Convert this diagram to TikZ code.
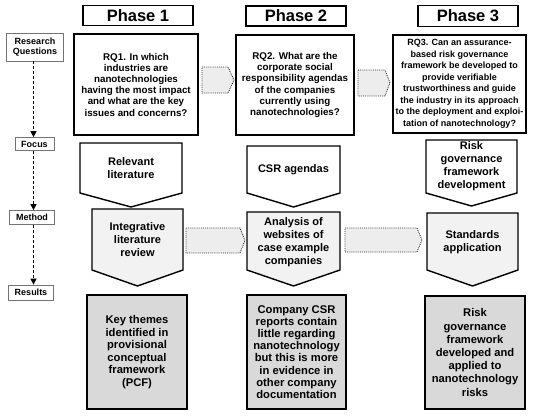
\documentclass[tikz,border=0pt]{standalone}
\usepackage{fontspec}
\setmainfont{Liberation Sans}
\usetikzlibrary{arrows.meta}
\begin{document}
\begin{tikzpicture}[x=1pt,y=-1pt,
  lbl/.style={draw=black!55, line width=0.8pt, fill=white, align=center, inner sep=1pt,
    font=\bfseries\fontsize{9}{10.5}\selectfont},
  phase/.style={draw, line width=1.6pt, inner sep=0pt, font=\bfseries\fontsize{16.5}{18}\selectfont},
  box/.style={draw, line width=1.6pt, align=center, inner sep=0pt},
  pent/.style={draw, line width=1.4pt, line join=miter},
  ptxt/.style={align=center, inner sep=0pt, font=\bfseries\fontsize{11}{13}\selectfont},
  dotarrow/.style={draw=black!80, densely dotted, line width=0.9pt, fill=black!7},
  flow/.style={densely dashed, line width=1.2pt, -{Triangle[length=6pt,width=6pt]}},
  rqf/.style={font=\bfseries\fontsize{9.8}{11.2}\selectfont},
  resf/.style={fill=black!15, font=\bfseries\fontsize{11.2}{12.5}\selectfont}
]
\useasboundingbox (0,0) rectangle (550,416);

% phase headers
\node[phase, minimum width=110pt, minimum height=20pt] (p1) at (138,15.5) {Phase 1};
\node[phase, minimum width=100pt, minimum height=20pt] (p2) at (296,16) {Phase 2};
\node[phase, minimum width=100pt, minimum height=21pt] (p3) at (468,16) {Phase 3};

% left labels
\coordinate (ax) at (33.5,0);
\node[lbl, minimum width=57pt, minimum height=28pt] (rqlbl) at (35,47) {Research\\Questions};
\node[lbl, minimum width=39pt, minimum height=13pt] (focuslbl) at (34.5,144) {Focus};
\node[lbl, minimum width=45pt, minimum height=14pt] (methodlbl) at (32,217.5) {Method};
\node[lbl, minimum width=45pt, minimum height=15pt] (reslbl) at (31,292.5) {Results};
\draw[flow] (rqlbl.south -| ax) -- (focuslbl.north -| ax);
\draw[flow] (focuslbl.south -| ax) -- (methodlbl.north -| ax);
\draw[flow] (methodlbl.south -| ax) -- (reslbl.north -| ax);

% research questions
\node[box, rqf, minimum width=124pt, minimum height=101pt] (rq1) at (136,84.5)
  {RQ1. In which\\industries are\\nanotechnologies\\having the most impact\\and what are the key\\issues and concerns?};
\node[box, rqf, minimum width=118pt, minimum height=100pt] (rq2) at (295,85)
  {RQ2. What are the\\corporate social\\responsibility agendas\\of the companies\\currently using\\nanotechnologies?};
\node[box, font=\bfseries\fontsize{9}{11.5}\selectfont, minimum width=133pt, minimum height=98pt] (rq3) at (459.5,84)
  {RQ3. Can an assurance-\\based risk governance\\framework be developed to\\provide verifiable\\trustworthiness and guide\\the industry in its approach\\to the deployment and exploi-\\tation of nanotechnology?};

% dotted arrows between RQs
\draw[dotarrow] (202,67) -- (228,67) -- (234,80) -- (228,93) -- (202,93) -- cycle;
\draw[dotarrow] (358,70) -- (385,70) -- (390,83) -- (385,96) -- (358,96) -- cycle;

% focus
\draw[pent, fill=white] (80,143) -- (182,143) -- (182,193) -- (131,207) -- (80,193) -- cycle;
\draw[pent, fill=white] (247,146) -- (340,146) -- (340,193) -- (293.5,207) -- (247,193) -- cycle;
\draw[pent, fill=white] (426,140) -- (517,140) -- (517,193) -- (471.5,206) -- (426,193) -- cycle;
\node[ptxt] (f1) at (131,168) {Relevant\\literature};
\node[ptxt] (f2) at (293.5,169.5) {CSR agendas};
\node[ptxt] (f3) at (471.5,166.5) {Risk\\governance\\framework\\development};

% method
\draw[pent, fill=black!5] (92,209) -- (183,209) -- (183,270) -- (137.5,286) -- (92,270) -- cycle;
\draw[pent, fill=black!5] (247,212) -- (340,212) -- (340,270) -- (293.5,286) -- (247,270) -- cycle;
\draw[pent, fill=black!5] (427,213) -- (518,213) -- (518,270) -- (472.5,286) -- (427,270) -- cycle;
\node[ptxt] (m1) at (137.5,240) {Integrative\\literature\\review};
\node[ptxt] (m2) at (293.5,242) {Analysis of\\websites of\\case example\\companies};
\node[ptxt] (m3) at (472.5,242.5) {Standards\\application};

% dotted arrows between methods
\draw[dotarrow] (186,228) -- (240,228) -- (245,240.5) -- (240,253) -- (186,253) -- cycle;
\draw[dotarrow] (345,228) -- (417,228) -- (422,240) -- (417,252) -- (345,252) -- cycle;

% results
\node[box, resf, minimum width=100pt, minimum height=114pt] (r1) at (137,352)
  {Key themes\\identified in\\provisional\\conceptual\\framework\\(PCF)};
\node[box, resf, font=\bfseries\fontsize{11.2}{12.1}\selectfont, minimum width=99pt, minimum height=114pt] (r2) at (296.5,352)
  {Company CSR\\reports contain\\little regarding\\nanotechnology\\but this is more\\in evidence in\\other company\\documentation};
\node[box, resf, font=\bfseries\fontsize{11.2}{13.2}\selectfont, minimum width=100pt, minimum height=113pt] (r3) at (475,352.5)
  {Risk\\governance\\framework\\developed and\\applied to\\nanotechnology\\risks};
\end{tikzpicture}
\end{document}
